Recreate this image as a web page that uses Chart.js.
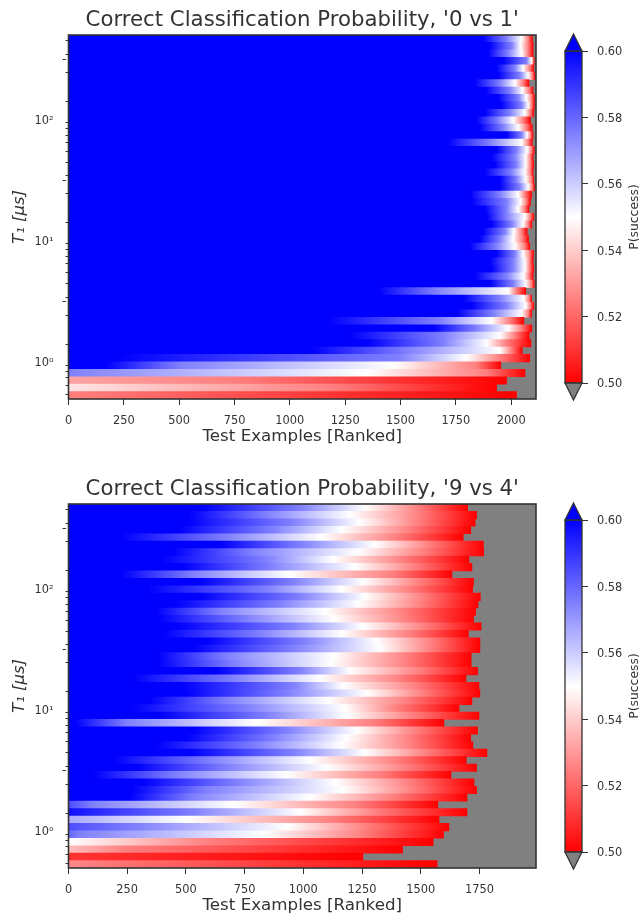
<!DOCTYPE html>
<html>
<head>
<meta charset="utf-8">
<script src="https://cdn.jsdelivr.net/npm/chart.js@4"></script>
<style>
  html, body { margin: 0; padding: 0; width: 640px; height: 914px; overflow: hidden; background: #fff; }
  canvas { position: absolute; display: block; }
</style>
</head>
<body>
<canvas id="panelTop" width="545" height="447" style="left:0;top:0"></canvas>
<canvas id="barTop" width="95" height="447" style="left:545px;top:0"></canvas>
<canvas id="panelBottom" width="545" height="447" style="left:0;top:469px"></canvas>
<canvas id="barBottom" width="95" height="447" style="left:545px;top:469px"></canvas>
<script>
// Each row is one T1 value, listed top to bottom. The x arrays hold the rank where
// P(success) falls to 0.60, 0.575, 0.55, 0.525, and where the row runs out.
const topX60 = [1873,1904,1896,1964,1934,1941,1836,1886,1941,1956,1881,1843,1858,1979,1715,1934,1911,1926,1881,1949,1949,1816,1821,1881,1889,1911,1873,1858,1813,1934,1904,1911,1836,1904,1400,1783,1821,1753,1170,1650,1270,1350,1100,220,170,0,0,0,0];
const topX575 = [1979,2002,1986,2069,2017,2039,1949,1994,2032,2047,1994,1941,1964,2047,1904,2024,2017,2024,2002,2024,2039,1949,1979,1979,1979,2002,1971,1949,1934,2017,2009,2009,1979,2009,1663,1949,1979,1919,1678,1843,1693,1693,1530,1497,503,0,0,0,0];
const topX55 = [2047,2042,2047,2092,2054,2077,2017,2051,2069,2077,2062,2009,2032,2072,2047,2072,2066,2066,2062,2066,2077,2032,2042,2032,2062,2054,2012,2009,2017,2054,2062,2062,2057,2066,1986,2057,2066,2047,1911,1986,1949,1889,1949,1798,1466,1347,0,0,0];
const topX525 = [2077,2077,2077,2099,2084,2096,2054,2081,2092,2092,2087,2054,2069,2087,2077,2092,2087,2087,2087,2092,2095,2062,2069,2062,2087,2077,2047,2051,2062,2084,2084,2084,2081,2092,2024,2081,2087,2077,1994,2047,2017,1979,2002,1949,1843,1889,744,1196,0];
const topEnd = [2096,2099,2099,2104,2102,2107,2080,2099,2105,2105,2102,2087,2095,2099,2095,2104,2099,2102,2099,2102,2105,2092,2087,2080,2102,2093,2072,2078,2084,2101,2099,2102,2099,2104,2066,2092,2102,2092,2057,2093,2081,2089,2050,2084,1953,2062,1979,1934,2024];
const topStart = [.6,.6,.6,.6,.6,.6,.6,.6,.6,.6,.6,.6,.6,.6,.6,.6,.6,.6,.6,.6,.6,.6,.6,.6,.6,.6,.6,.6,.6,.6,.6,.6,.6,.6,.6,.6,.6,.6,.6,.6,.6,.6,.6,.6,.6,.575,.532,.545,.525];

const bottomX60 = [574,517,510,474,226,645,446,403,488,226,559,339,559,453,375,389,467,403,588,531,382,382,630,275,488,503,346,268,389,27,531,503,375,517,190,290,105,318,275,261,0,0,0,0,0,0,0,0,0];
const bottomX575 = [985,843,950,872,673,990,786,843,858,531,957,843,985,900,645,758,957,815,1000,957,673,701,985,701,957,929,673,758,843,247,929,872,801,957,602,673,460,716,588,531,105,531,0,290,50,0,0,0,0];
const bottomX55 = [1262,1198,1241,1163,1078,1305,1234,1128,1220,940,1255,1163,1262,1234,1092,1128,1255,1163,1312,1326,1128,1120,1198,1071,1170,1270,1106,1177,1184,801,1227,1184,1163,1262,1028,1099,929,1135,1170,1028,702,985,503,929,829,0,0,0,0];
const bottomX525 = [1490,1497,1490,1454,1397,1539,1511,1426,1475,1383,1497,1454,1511,1504,1426,1440,1518,1454,1546,1546,1440,1440,1497,1412,1482,1511,1440,1397,1468,1298,1482,1454,1461,1525,1397,1440,1326,1454,1468,1383,1227,1312,1127,1270,1255,600,247,0,77];
const bottomEnd = [1700,1738,1732,1713,1681,1767,1768,1705,1718,1633,1725,1721,1754,1744,1734,1725,1757,1703,1752,1752,1715,1715,1742,1693,1748,1752,1718,1663,1748,1599,1742,1713,1722,1782,1694,1738,1629,1727,1738,1697,1573,1697,1578,1620,1597,1553,1423,1254,1570];
const bottomStart = [.6,.6,.6,.6,.6,.6,.6,.6,.6,.6,.6,.6,.6,.6,.6,.6,.6,.6,.6,.6,.6,.6,.6,.6,.6,.6,.6,.6,.6,.6,.6,.6,.6,.6,.6,.6,.6,.6,.6,.6,.585,.597,.567,.585,.58,.55,.537,.51,.527];

const levels = [0.6, 0.575, 0.55, 0.525, 0.5];
const xTicksTop = [0, 250, 500, 750, 1000, 1250, 1500, 1750, 2000];
const xTicksBottom = [0, 250, 500, 750, 1000, 1250, 1500, 1750];
const logMajorTicks = [1, 10, 100];
const logMinorTicks = [0.5,0.6,0.7,0.8,0.9,1,2,3,4,5,6,7,8,9,10,20,30,40,50,60,70,80,90,100,200,300,400,500];
const logLabels = { 1: '10\u2070', 10: '10\u00b9', 100: '10\u00b2' };
const colorbarTicks = [0.5, 0.52, 0.54, 0.56, 0.58, 0.6];

const ink = '#333333';
const clear = 'rgba(0,0,0,0)';
Chart.defaults.font.family = '"DejaVu Sans"';
Chart.defaults.color = ink;
Chart.defaults.animation = false;
Chart.defaults.devicePixelRatio = 1;

// blue-white-red map, 0.50 is red, 0.55 white, 0.60 blue
function cmap(p) {
  if (p >= 0.55) {
    const c = Math.round(255 * (1 - Math.min(1, (p - 0.55) / 0.05)));
    return `rgb(${c},${c},255)`;
  }
  const c = Math.round(255 * (1 - Math.min(1, (0.55 - p) / 0.05)));
  return `rgb(255,${c},${c})`;
}

// one bar per row, so row edges stay straight; the colour runs along it
function rowFill(ctx, stops, startP) {
  if (ctx.type !== 'data' || !ctx.raw) return clear;
  const k = ctx.dataIndex;
  const end = ctx.raw[1];
  const xs = ctx.chart.scales.x;
  const x0 = xs.getPixelForValue(0), x1 = xs.getPixelForValue(end);
  // the first pass runs before the scales are laid out
  if (!isFinite(x0) || !isFinite(x1)) return clear;
  const g = ctx.chart.ctx.createLinearGradient(x0, 0, x1, 0);
  g.addColorStop(0, cmap(startP[k]));
  stops.forEach((s, i) => {
    if (s[k] > 0) g.addColorStop(Math.min(1, s[k] / end), cmap(levels[i]));
  });
  return g;
}

const panelPaint = {
  id: 'panelPaint',
  beforeDatasetsDraw(chart) {
    const a = chart.chartArea;
    chart.ctx.fillStyle = '#808080';
    chart.ctx.fillRect(a.left, a.top, a.width, a.height);
  },
  afterDraw(chart) {
    const a = chart.chartArea;
    chart.ctx.strokeStyle = ink;
    chart.ctx.lineWidth = 1.6;
    chart.ctx.strokeRect(a.left, a.top, a.width, a.height);
  },
};

function drawPanel(id, title, stops, startP, xMax, xTicks) {
  const rowEnd = stops[stops.length - 1];
  new Chart(document.getElementById(id), {
    type: 'bar',
    data: {
      labels: startP.map((_, i) => i),
      datasets: [{ data: rowEnd.map(x => [0, x]), backgroundColor: ctx => rowFill(ctx, stops, startP) }],
    },
    plugins: [panelPaint],
    options: {
      responsive: false,
      indexAxis: 'y',
      layout: { padding: { right: 9 } },
      datasets: { bar: { categoryPercentage: 1, barPercentage: 1 } },
      plugins: {
        legend: { display: false },
        tooltip: { enabled: false },
        title: {
          display: true, text: title, fullSize: false, color: ink,
          font: { size: 21.25, weight: 'normal' },
          padding: { top: 7.5, bottom: 2 },
        },
      },
      scales: {
        x: {
          type: 'linear', min: 0, max: xMax,
          afterBuildTicks: s => { s.ticks = xTicks.map(value => ({ value })); },
          afterFit: s => { s.height = 48; },
          ticks: { font: { size: 11.4 }, padding: 9, maxRotation: 0, autoSkip: false, color: ink, callback: v => String(v) },
          grid: { display: true, drawOnChartArea: false, tickLength: 6, tickColor: ink },
          border: { display: false },
          title: { display: true, text: 'Test Examples [Ranked]', color: ink, font: { size: 16.7 }, padding: 0 },
        },
        y: { type: 'category', display: false },
        yMinor: {
          axis: 'y', type: 'logarithmic', position: 'left', min: 0.5, max: 500, weight: 0,
          afterBuildTicks: s => { s.ticks = logMinorTicks.map(value => ({ value })); },
          afterFit: s => { s.width = 3; },
          ticks: { display: false },
          grid: { display: true, drawOnChartArea: false, tickLength: 3, tickColor: ink },
          border: { display: false },
        },
        yMajor: {
          axis: 'y', type: 'logarithmic', position: 'left', min: 0.5, max: 500, weight: 1,
          afterBuildTicks: s => { s.ticks = logMajorTicks.map(value => ({ value })); },
          afterFit: s => { s.width = 65.5; },
          ticks: { font: { size: 11.4 }, padding: 9, labelOffset: 1, color: ink, callback: v => logLabels[v] },
          grid: { display: true, drawOnChartArea: false, tickLength: 3, tickColor: ink },
          border: { display: false },
          title: { display: true, text: 'T\u2081 [\u03bcs]', color: ink, font: { size: 16.5, style: 'italic' }, padding: { top: 10, bottom: 0 } },
        },
      },
    },
  });
}

const colorbarPaint = {
  id: 'colorbarPaint',
  afterDraw(chart) {
    const c = chart.ctx, a = chart.chartArea, mid = (a.left + a.right) / 2;
    c.lineWidth = 1.3;
    c.strokeStyle = ink;
    c.strokeRect(a.left, a.top, a.width, a.height);
    [[a.top, -17, '#0000ff'], [a.bottom, 17, '#808080']].forEach(([y, h, fill]) => {
      c.beginPath();
      c.moveTo(a.left, y);
      c.lineTo(mid, y + h);
      c.lineTo(a.right, y);
      c.closePath();
      c.fillStyle = fill;
      c.fill();
      c.stroke();
    });
    c.save();
    c.translate(89.5, (a.top + a.bottom) / 2);
    c.rotate(-Math.PI / 2);
    c.font = '12.4px "DejaVu Sans"';
    c.fillStyle = ink;
    c.textAlign = 'center';
    c.textBaseline = 'middle';
    c.fillText('P(success)', 0, 0);
    c.restore();
  },
};

function drawColorbar(id) {
  new Chart(document.getElementById(id), {
    type: 'bar',
    data: {
      labels: ['P'],
      datasets: [{
        data: [[0.5, 0.6]],
        backgroundColor: ctx => {
          if (ctx.type !== 'data') return clear;
          const ys = ctx.chart.scales.y;
          const y0 = ys.getPixelForValue(0.5), y1 = ys.getPixelForValue(0.6);
          if (!isFinite(y0) || !isFinite(y1)) return clear;
          const g = ctx.chart.ctx.createLinearGradient(0, y0, 0, y1);
          g.addColorStop(0, cmap(0.5));
          g.addColorStop(0.5, cmap(0.55));
          g.addColorStop(1, cmap(0.6));
          return g;
        },
      }],
    },
    plugins: [colorbarPaint],
    options: {
      responsive: false,
      layout: { padding: { left: 20, top: 51, bottom: 64 } },
      datasets: { bar: { categoryPercentage: 1, barPercentage: 1 } },
      plugins: { legend: { display: false }, tooltip: { enabled: false } },
      scales: {
        x: { display: false },
        y: {
          position: 'right', min: 0.5, max: 0.6,
          afterBuildTicks: s => { s.ticks = colorbarTicks.map(value => ({ value })); },
          afterFit: s => { s.width = 58; },
          ticks: { font: { size: 11.4 }, padding: 9, labelOffset: 1.5, color: ink, callback: v => v.toFixed(2) },
          grid: { display: true, drawOnChartArea: false, tickLength: 6, tickColor: ink },
          border: { display: false },
        },
      },
    },
  });
}

drawPanel('panelTop', "Correct Classification Probability, '0 vs 1'", [topX60, topX575, topX55, topX525, topEnd], topStart, 2112, xTicksTop);
drawPanel('panelBottom', "Correct Classification Probability, '9 vs 4'", [bottomX60, bottomX575, bottomX55, bottomX525, bottomEnd], bottomStart, 1991, xTicksBottom);
drawColorbar('barTop');
drawColorbar('barBottom');
</script>
</body>
</html>
